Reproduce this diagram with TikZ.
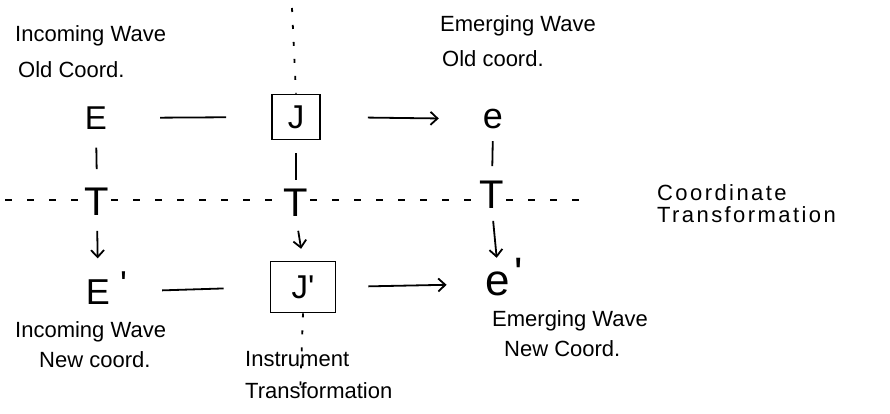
\documentclass[tikz,border=0pt]{standalone}
\usepackage{fontspec}
\setmainfont{Liberation Sans}
\usetikzlibrary{arrows.meta}
% a prime that does not change the size of the letter it follows
\newcommand{\pr}[2]{\rlap{\smash{\hspace{#1}\raisebox{#2}{\textquotesingle}}}}
\begin{document}
\begin{tikzpicture}[x=1pt,y=-1pt,
  letter/.style={inner sep=0pt, font=\fontsize{#1}{#1}\selectfont},
  boxed/.style={draw, line width=1.7pt, inner sep=0pt, font=\fontsize{33}{33}\selectfont},
  lbl/.style={align=left, anchor=north west, inner sep=0pt},
  conn/.style={line width=1.8pt},
  arr/.style={conn, -{Straight Barb[length=7pt,width=13pt,line width=1.8pt]}},
  dashline/.style={line width=1.8pt, dash pattern=on 7pt off 15pt},
  dotline/.style={line width=1.8pt, dash pattern=on 4pt off 13pt}]
\useasboundingbox (0,0) rectangle (890,414);

% old coordinates
\node[letter=33] (E) at (96,118) {E};
\node[boxed, minimum width=48pt, minimum height=45pt] (J) at (296,117) {J};
\node[letter=36] (e) at (493,119) {e};

% coordinate transformation
\node[letter=40] (TE) at (97,202) {T};
\node[letter=40] (TJ) at (296,203) {T};
\node[letter=40] (Te) at (492,195) {T};

% new coordinates
\node[letter=36] (Ep) at (98,292) {E\pr{10pt}{8pt}};
\node[boxed, minimum width=65pt, minimum height=51pt] (Jp) at (303,287) {J\textquotesingle};
\node[letter=44] (ep) at (498,284) {e\pr{4pt}{7pt}};

% horizontal connectors
\draw[conn, shorten <=53pt, shorten >=45pt] (E.east) -- (J.west);
\draw[arr, shorten <=47pt, shorten >=44pt] (J.east) -- (e.west);
\draw[conn, shorten <=52pt, shorten >=46pt] (Ep.east) -- (Jp.west);
\draw[arr, shorten <=32pt, shorten >=39pt] (Jp.east) -- (ep.west);

% bars and arrows across the transformation row
\draw[conn, shorten <=18pt, shorten >=19pt] (E.south) -- (TE.north);
\draw[conn, shorten <=13pt, shorten >=9pt] (J.south) -- (TJ.north);
\draw[conn, shorten <=12pt, shorten >=15pt] (e.south) -- (Te.north);
\draw[arr, shorten <=15pt, shorten >=21pt] (TE.south) -- (Ep.north);
\draw[arr, shorten <=14pt, shorten >=12pt] (TJ.south) -- (Jp.north);
\draw[arr, shorten <=12pt, shorten >=14pt] (Te.south) -- (ep.north);

% dashed line of the coordinate transformation
\coordinate (dl) at (5,200);
\coordinate (dr) at (590,200);
\draw[dashline] (dl) -- (TE.west |- dl);
\draw[dashline, shorten <=2pt, shorten >=2pt] (TE.east |- dl) -- (TJ.west |- dl);
\draw[dashline, shorten <=2pt, shorten >=2pt] (TJ.east |- dl) -- (Te.west |- dl);
\draw[dashline, shorten <=2pt] (Te.east |- dl) -- (dr);

% dotted line of the instrument
\coordinate (dt) at (292,8);
\coordinate (db) at (300,398);
\draw[dotline] (dt) -- (J.north);
\draw[dotline] (Jp.south) -- (db);

% labels
\node[lbl, font=\fontsize{22}{36}\selectfont] (l1) at (15,25) {Incoming Wave\\\hspace*{3pt}Old Coord.};
\node[lbl, font=\fontsize{22}{35}\selectfont] (l2) at (440,15) {Emerging Wave\\\hspace*{2pt}Old coord.};
\node[lbl, font=\fontsize{22}{22}\selectfont\addfontfeature{LetterSpace=11}] (l3) at (657,184) {Coordinate\\Transformation};
\node[lbl, font=\fontsize{22}{30}\selectfont] (l4) at (15,321) {Incoming Wave\\\hspace*{24pt}New coord.};
\node[lbl, font=\fontsize{22}{32}\selectfont] (l5) at (245,351) {Instrument\\Transformation};
\node[lbl, font=\fontsize{22}{30}\selectfont] (l6) at (492,310) {Emerging Wave\\\hspace*{12pt}New Coord.};
\end{tikzpicture}
\end{document}
